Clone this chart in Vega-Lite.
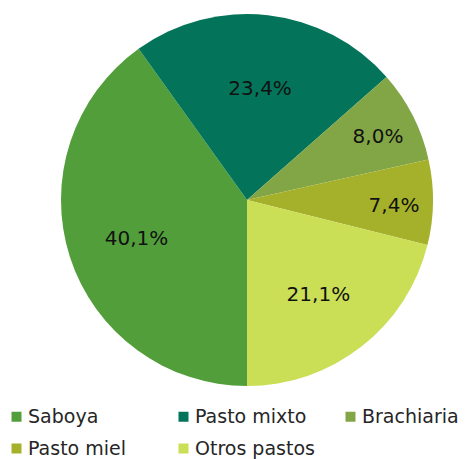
{
  "$schema": "https://vega.github.io/schema/vega-lite/v6.json",
  "width": 442,
  "height": 400,
  "padding": {"left": 26, "top": 0, "right": 0, "bottom": 59},
  "autosize": {"type": "none"},
  "background": "white",
  "config": {
    "view": {"stroke": null},
    "locale": {"number": {"decimal": ",", "thousands": ".", "grouping": [3], "currency": ["", " €"]}}
  },
  "data": {
    "values": [
      {"tipo": "Saboya", "valor": 0.401, "i": 1},
      {"tipo": "Pasto mixto", "valor": 0.234, "i": 2},
      {"tipo": "Brachiaria", "valor": 0.080, "i": 3},
      {"tipo": "Pasto miel", "valor": 0.074, "i": 4},
      {"tipo": "Otros pastos", "valor": 0.211, "i": 5}
    ]
  },
  "encoding": {
    "theta": {"field": "valor", "type": "quantitative", "stack": true, "scale": {"range": [3.14159265, 9.42477796]}},
    "order": {"field": "i", "type": "quantitative"}
  },
  "layer": [
    {
      "mark": {"type": "arc", "outerRadius": 186},
      "encoding": {
        "color": {
          "field": "tipo",
          "type": "nominal",
          "scale": {
            "domain": ["Saboya", "Pasto mixto", "Brachiaria", "Pasto miel", "Otros pastos"],
            "range": ["#529E3B", "#03745A", "#82A646", "#A6B12B", "#CADF55"]
          },
          "legend": {
            "title": null,
            "orient": "none",
            "legendX": -19,
            "legendY": 407,
            "direction": "horizontal",
            "columns": 3,
            "gridAlign": "all",
            "columnPadding": 26,
            "rowPadding": 12,
            "padding": 0,
            "symbolType": "square",
            "symbolSize": 100,
            "symbolStrokeWidth": 0,
            "labelFont": "DejaVu Sans",
            "labelFontSize": 19,
            "labelColor": "#262626",
            "labelOffset": 2,
            "labelLimit": 300
          }
        }
      }
    },
    {
      "mark": {"type": "text", "radius": 116, "dy": 4, "font": "DejaVu Sans", "fontSize": 20, "color": "#111111"},
      "encoding": {
        "text": {"condition": {"test": "datum.valor >= 0.1", "field": "valor", "type": "quantitative", "format": ".1%"}, "value": ""}
      }
    },
    {
      "mark": {"type": "text", "radius": 147, "dy": 4, "font": "DejaVu Sans", "fontSize": 20, "color": "#111111"},
      "encoding": {
        "text": {"condition": {"test": "datum.valor < 0.1", "field": "valor", "type": "quantitative", "format": ".1%"}, "value": ""}
      }
    }
  ]
}
